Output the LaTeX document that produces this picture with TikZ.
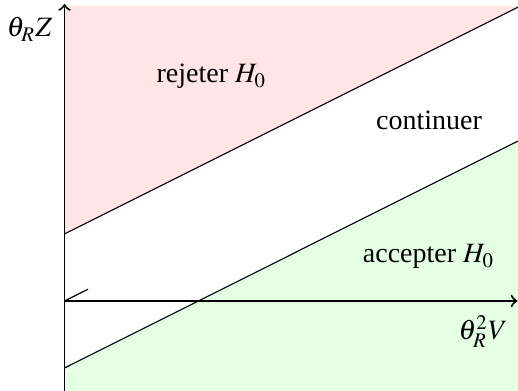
\documentclass[tikz,border=0pt]{standalone}
\usepackage{mathptmx}
\usepackage{fontspec}
\setmainfont{Liberation Serif}
\begin{document}
\begin{tikzpicture}[x=0.357pt,y=-0.357pt,
  lbl/.style={font=\fontsize{10}{12}\selectfont, inner sep=0pt, anchor=base},
  axisline/.style={line width=0.7pt,->},
  bound/.style={line width=0.4pt}]
\useasboundingbox (0,0) rectangle (518,391);
\coordinate (O) at (64.5,301);
\coordinate (u1) at (64.5,234);
\coordinate (u2) at (518,7.25);
\coordinate (l1) at (64.5,368);
\coordinate (l2) at (518,141);
\coordinate (t2) at (88,289.25);
\coordinate (ybot) at (64.5,391);
\coordinate (ytop) at (64.5,4);
\coordinate (xend) at (517.5,301);
\fill[red!10] (u1) -- (u2) -- (518,6) -- (64.5,6) -- cycle;
\fill[green!10] (l1) -- (l2) -- (518,391) -- (64.5,391) -- cycle;
\draw[bound] (u1) -- (u2);
\draw[bound] (l1) -- (l2);
\draw[bound] (O) -- (t2);
\draw[axisline] (ybot) -- (ytop);
\draw[axisline] (O) -- (xend);
\node[lbl, anchor=base east] (ylab) at (53,37) {$\theta_R Z$};
\node[lbl, anchor=base east] (xlab) at (508,340) {$\theta_R^2 V$};
\node[lbl] (rej) at (211.5,83) {rejeter $H_0$};
\node[lbl] (cont) at (429,130) {continuer};
\node[lbl] (acc) at (428.7,263) {accepter $H_0$};
\end{tikzpicture}
\end{document}
